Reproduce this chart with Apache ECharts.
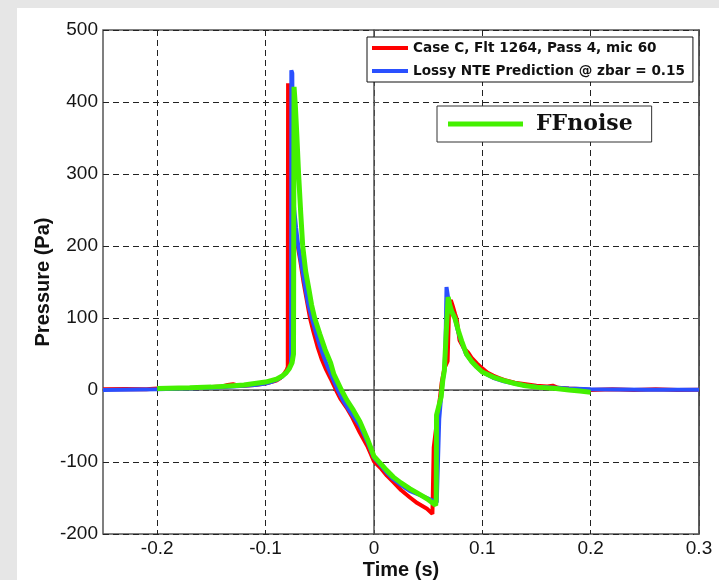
<!DOCTYPE html>
<html>
<head>
<meta charset="utf-8">
<script src="https://cdn.jsdelivr.net/npm/echarts@6/dist/echarts.min.js"></script>
<style>html,body{margin:0;padding:0;background:#e6e6e6;}#c{width:719px;height:580px;}</style>
</head>
<body>
<div id="c"></div>
<script>
// ---- data ----
const redName = 'Case C, Flt 1264, Pass 4, mic 60';
const blueName = 'Lossy NTE Prediction @ zbar = 0.15';
const greenName = 'FFnoise';

const redT = [-0.25,-0.23,-0.21,-0.2,-0.18,-0.16,-0.15,-0.14,-0.135,-0.13,-0.125,-0.12,-0.11,-0.1,-0.095,-0.09,-0.086,-0.083,-0.0805,-0.0795,-0.0792,-0.0786,-0.0782,-0.0765,-0.073,-0.0703,-0.068,-0.065,-0.062,-0.059,-0.056,-0.052,-0.048,-0.044,-0.04,-0.035,-0.031,-0.025,-0.02,-0.013,-0.006,0,0.006,0.012,0.018,0.025,0.033,0.04,0.049,0.054,0.0548,0.0552,0.058,0.061,0.0625,0.065,0.068,0.0695,0.071,0.0725,0.075,0.0765,0.079,0.083,0.087,0.09,0.095,0.1,0.105,0.11,0.115,0.12,0.13,0.14,0.15,0.16,0.165,0.17,0.18,0.19,0.2,0.22,0.24,0.26,0.28,0.3];
const redP = [1,1.5,1,2,2.5,3,4,5,7,8,6,6,7,9,11,13,17,22,28,32,426,424,270,250,220,200,180,150,125,100,82,60,42,28,16,0,-12,-25,-38,-59,-78,-99,-108,-119,-128,-139,-149,-157,-165,-172,-172,-80,-45,-10,10,30,40,120,125,118,105,98,69,58,52,45,37,30,24,20,17,14,10,8,6,5,6,3,2,1.5,0,1,0,1,0,0.5];

const blueT = [-0.25,-0.2,-0.15,-0.13,-0.12,-0.11,-0.1,-0.095,-0.09,-0.085,-0.081,-0.078,-0.0765,-0.0762,-0.0753,-0.0749,-0.0735,-0.0718,-0.0698,-0.067,-0.064,-0.061,-0.0574,-0.054,-0.05,-0.046,-0.042,-0.038,-0.034,-0.0286,-0.022,-0.013,-0.006,0,0.006,0.012,0.018,0.025,0.033,0.041,0.049,0.058,0.0598,0.0603,0.062,0.0635,0.065,0.066,0.0665,0.067,0.0685,0.07,0.0725,0.0747,0.077,0.08,0.085,0.09,0.095,0.1,0.11,0.12,0.13,0.14,0.155,0.168,0.18,0.2,0.25,0.3];
const blueP = [0,1,3,5,6,7,9,11,14,18,24,30,36,444,440,280,250,225,200,175,148,122,100,82,62,45,30,16,2,-14,-30,-50,-72,-94,-104,-115,-124,-132,-140,-145,-150,-156,-156,-40,-10,13,27,60,100,143,128,117,108,100,85,70,50,40,32,25,17,12,9,6,4,3,2,1,0.5,0.5];

const greenT = [-0.2,-0.17,-0.15,-0.13,-0.12,-0.11,-0.1,-0.095,-0.09,-0.085,-0.081,-0.078,-0.0755,-0.0742,-0.0737,-0.0725,-0.071,-0.0695,-0.0675,-0.0657,-0.063,-0.06,-0.0575,-0.0547,-0.05,-0.045,-0.04,-0.037,-0.03,-0.025,-0.019,-0.0129,-0.006,0,0.006,0.012,0.018,0.025,0.033,0.041,0.049,0.057,0.0575,0.0578,0.062,0.0635,0.065,0.0665,0.0685,0.07,0.072,0.0747,0.078,0.081,0.0854,0.09,0.095,0.1,0.11,0.12,0.13,0.14,0.15,0.168,0.18,0.19,0.2];
const greenP = [2,3,4,6,7,9,11,13,15,19,24,30,38,50,421,395,350,300,245,200,165,140,118,100,78,56,38,22,0,-14,-28,-44,-68,-92,-102,-112,-121,-129,-137,-144,-151,-160,-150,-35,-10,13,27,73,129,118,108,100,82,68,50,40,32,25,18,13,9,6,4,2,0,-1.5,-3];

const xTickValues = [-0.2,-0.1,0,0.1,0.2,0.3];
const xTickLabels = ['-0.2','-0.1','0','0.1','0.2','0.3'];
const yTickLabels = ['-200','-100','0','100','200','300','400','500'];

function zip(a, b) { return a.map((v, i) => [v, b[i]]); }

const chart = echarts.init(document.getElementById('c'), null, {renderer: 'canvas'});
const labelFont = 'Liberation Sans, Arial, sans-serif';

chart.setOption({
  backgroundColor: '#e6e6e6',
  animation: false,
  graphic: [{
    type: 'rect', left: 17, top: 8, z: -10,
    shape: {width: 702, height: 572},
    style: {fill: '#ffffff'}
  }],
  grid: {left: 103, right: 20, top: 30, bottom: 46, outerBoundsMode: 'none', containLabel: false,
         show: true, borderColor: '#555', borderWidth: 1.5, backgroundColor: 'transparent'},
  legend: [{
    data: [redName, blueName],
    orient: 'vertical',
    left: 367, top: 37,
    padding: [3, 8, 3, 5],
    itemWidth: 36, itemHeight: 4, itemGap: 7,
    icon: 'rect',
    borderColor: '#111', borderWidth: 1,
    backgroundColor: '#fff',
    textStyle: {fontFamily: 'DejaVu Sans, sans-serif', fontWeight: 'bold', fontSize: 13.6, color: '#111', lineHeight: 16},
    selectedMode: false
  }, {
    data: [greenName],
    left: 437, top: 106,
    padding: [5, 19, 5, 11],
    itemWidth: 75, itemHeight: 5,
    icon: 'rect',
    borderColor: '#333', borderWidth: 1,
    backgroundColor: '#fff',
    textStyle: {fontFamily: 'DejaVu Serif, serif', fontWeight: 'bold', fontSize: 22, color: '#111', lineHeight: 26, padding: [0, 0, 0, 8]},
    selectedMode: false
  }],
  xAxis: [{
    type: 'value', min: -0.25, max: 0.3, interval: 0.05,
    axisLine: {show: true, lineStyle: {color: '#555', width: 1.5}},
    axisTick: {show: false},
    axisLabel: {
      fontFamily: labelFont, fontSize: 19, color: '#151515', margin: 5,
      formatter: function (v) {
        for (let i = 0; i < xTickValues.length; i++) {
          if (Math.abs(v - xTickValues[i]) < 1e-6) return xTickLabels[i];
        }
        return '';
      }
    },
    splitLine: {show: true, lineStyle: {color: ['rgba(0,0,0,0)', '#222'], type: [6, 4], width: 1}},
    name: 'Time (s)', nameLocation: 'middle', nameGap: 26, nameMoveOverlap: false,
    nameTextStyle: {fontFamily: labelFont, fontWeight: 'bold', fontSize: 20, color: '#111'}
  }],
  yAxis: [{
    type: 'value', min: -200, max: 500, interval: 100,
    axisLine: {show: true, lineStyle: {color: '#555', width: 1.5}},
    axisTick: {show: true, inside: true, length: 5, lineStyle: {color: '#555'}},
    axisLabel: {
      fontFamily: labelFont, fontSize: 19, color: '#151515', margin: 5,
      formatter: function (v) { return yTickLabels[Math.round((v + 200) / 100)]; }
    },
    splitLine: {show: true, lineStyle: {color: '#222', type: [6, 4], width: 1}},
    name: 'Pressure (Pa)', nameLocation: 'middle', nameGap: 50, nameMoveOverlap: false,
    nameTextStyle: {fontFamily: labelFont, fontWeight: 'bold', fontSize: 20, color: '#111'}
  }, {
    type: 'value', min: -200, max: 500, interval: 100, position: 'right',
    axisLine: {show: true, lineStyle: {color: '#555', width: 1.5}},
    axisTick: {show: true, inside: true, length: 5, lineStyle: {color: '#555'}},
    axisLabel: {show: false},
    splitLine: {show: false}
  }],
  series: [{
    name: redName, type: 'line', data: zip(redT, redP),
    showSymbol: false, symbol: 'none',
    lineStyle: {color: '#ff0000', width: 4}, itemStyle: {color: '#ff0000'}, z: 3
  }, {
    name: blueName, type: 'line', data: zip(blueT, blueP),
    showSymbol: false, symbol: 'none',
    lineStyle: {color: '#2a50ff', width: 4}, itemStyle: {color: '#2a50ff'}, z: 4
  }, {
    name: greenName, type: 'line', data: zip(greenT, greenP),
    showSymbol: false, symbol: 'none',
    lineStyle: {color: '#44f000', width: 5}, itemStyle: {color: '#44f000'}, z: 5
  }]
});
</script>
</body>
</html>
